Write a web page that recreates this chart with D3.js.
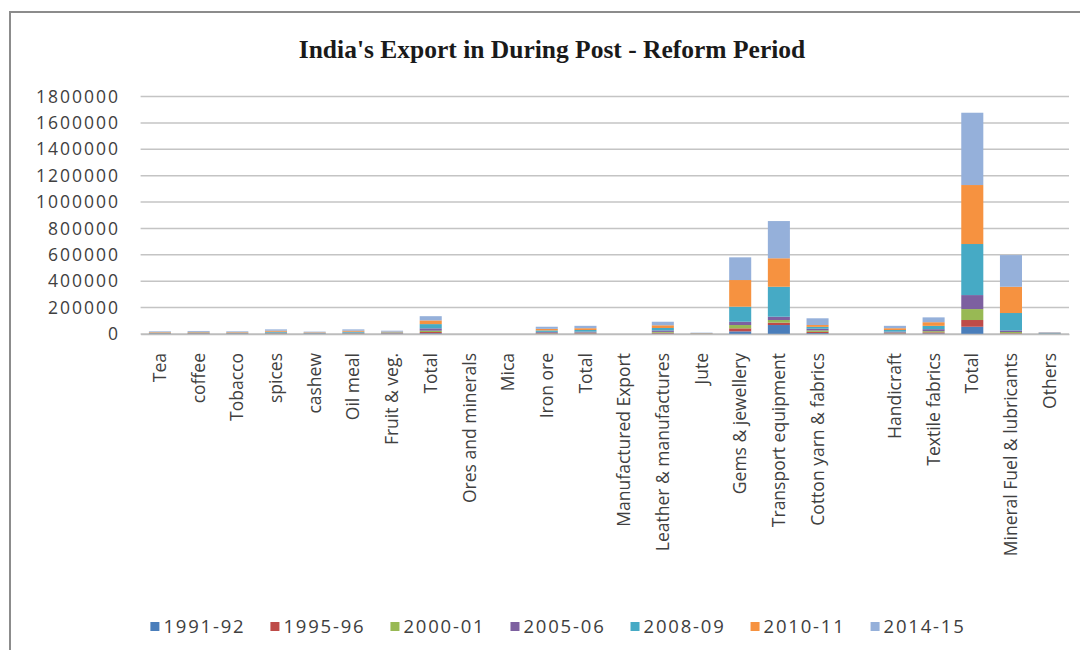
<!DOCTYPE html>
<html>
<head>
<meta charset="utf-8">
<script src="https://cdn.jsdelivr.net/npm/d3@7/dist/d3.min.js"></script>
<style>
  html, body { margin: 0; padding: 0; background: #fff; }
  svg { display: block; }
</style>
</head>
<body>
<svg id="chart" width="1080" height="650"></svg>
<script>
// Export categories (blank entry is a spacer column)
const categories = ["Tea", "coffee", "Tobacco", "spices", "cashew", "Oil meal", "Fruit & veg.", "Total",
  "Ores and minerals", "Mica", "Iron ore", "Total",
  "Manufactured Export", "Leather & manufactures", "Jute", "Gems & jewellery", "Transport equipment",
  "Cotton yarn & fabrics", "", "Handicraft", "Textile fabrics", "Total",
  "Mineral Fuel & lubricants", "Others"];

const years = ["1991-92", "1995-96", "2000-01", "2005-06", "2008-09", "2010-11", "2014-15"];

// Export value per year, one entry per category
const y1991 = [800, 900, 700, 1400, 700, 1300, 1000, 6000, 0, 0, 2200, 2500, 0, 3700, 400, 20000, 68000, 7000, 0, 2500, 5000, 55000, 2000, 600];
const y1995 = [1200, 1400, 1100, 2100, 1100, 2000, 1500, 9000, 0, 0, 3300, 3700, 0, 5600, 600, 23000, 18000, 9000, 0, 3700, 7600, 51000, 4000, 900];
const y2000 = [1400, 1600, 1500, 2500, 1300, 2600, 1700, 10000, 0, 0, 3900, 4300, 0, 6500, 700, 25000, 20000, 11000, 0, 4300, 8800, 83000, 9000, 1000];
const y2005 = [2400, 2800, 2500, 4200, 2200, 4300, 3000, 18000, 0, 0, 6600, 7400, 0, 11200, 1200, 25000, 25000, 13000, 0, 7400, 15100, 106000, 12000, 1800];
const y2008 = [4000, 4600, 4200, 7000, 3600, 7100, 5000, 32000, 0, 0, 11000, 12400, 0, 18600, 2000, 114000, 227000, 14000, 0, 12400, 25200, 387000, 132000, 3000];
const y2010 = [4400, 5100, 4300, 7700, 4000, 7600, 5500, 28000, 0, 0, 12100, 13600, 0, 20500, 2200, 202000, 216000, 14000, 0, 13600, 27700, 447000, 199000, 3300];
const y2014 = [5800, 6600, 5700, 10100, 5100, 10100, 7300, 32000, 0, 0, 15900, 18100, 0, 26900, 2900, 172000, 282000, 51000, 0, 18100, 36600, 548000, 240000, 4400];

const yTicks = [0, 200000, 400000, 600000, 800000, 1000000, 1200000, 1400000, 1600000, 1800000];

const colors = ["#4A7EBB", "#BE4B48", "#98B954", "#7D60A0", "#46AAC5", "#F69240", "#95B0DA"];

const seriesValues = [y1991, y1995, y2000, y2005, y2008, y2010, y2014];

// Rows for the stack layout
const rows = categories.map((c, i) => {
  const r = { idx: i, label: c };
  years.forEach((yr, k) => { r[yr] = seriesValues[k][i]; });
  return r;
});

const svg = d3.select("#chart");
const textColor = "#404040";
const labelFont = "'Open Sans', sans-serif";

// Frame around the chart area
svg.append("rect")
  .attr("x", 10).attr("y", 12)
  .attr("width", 1100).attr("height", 700)
  .attr("fill", "#fff")
  .attr("stroke", "#8c8c8c").attr("stroke-width", 2);

// Title
svg.append("text")
  .attr("x", 552).attr("y", 58)
  .attr("text-anchor", "middle")
  .attr("font-family", "'Liberation Serif', serif")
  .attr("font-weight", "bold")
  .attr("font-size", 25.5)
  .attr("fill", "#1a1a1a")
  .text("India's Export in During Post - Reform Period");

const x = d3.scaleBand()
  .domain(rows.map(d => d.idx))
  .range([140.6, 1069])
  .paddingInner(0.43)
  .paddingOuter(0.215);

const y = d3.scaleLinear()
  .domain([0, 1800000])
  .range([334, 96.5]);

// Horizontal gridlines
svg.append("g")
  .selectAll("line")
  .data(yTicks)
  .join("line")
  .attr("x1", 140.6).attr("x2", 1069)
  .attr("y1", d => y(d)).attr("y2", d => y(d))
  .attr("stroke", "#c4c4c4")
  .attr("stroke-width", 1.5);

// Y axis labels
const yAxis = d3.axisLeft(y).tickValues(yTicks).tickSize(0).tickPadding(0).tickFormat(d3.format("d"));
const gy = svg.append("g").attr("transform", "translate(120,0)").call(yAxis);
gy.select(".domain").remove();
gy.selectAll("text")
  .attr("font-family", labelFont)
  .attr("font-size", 17.5)
  .attr("letter-spacing", 2)
  .attr("fill", textColor);

// Stacked bars
const stack = d3.stack().keys(years);
const layers = stack(rows);

svg.append("g")
  .selectAll("g")
  .data(layers)
  .join("g")
  .attr("fill", (d, i) => colors[i])
  .selectAll("rect")
  .data(d => d)
  .join("rect")
  .attr("x", d => x(d.data.idx))
  .attr("width", x.bandwidth())
  .attr("y", d => y(d[1]))
  .attr("height", d => Math.max(0, y(d[0]) - y(d[1])));

// Category axis
const xAxis = d3.axisBottom(x).tickSize(0).tickPadding(0).tickFormat(i => categories[i]);
const gx = svg.append("g").attr("transform", "translate(0,334)").call(xAxis);
gx.select(".domain").attr("stroke", "#bdbdbd").attr("stroke-width", 1.5);
gx.selectAll("text")
  .attr("font-family", labelFont)
  .attr("font-size", 17.5)
  .attr("fill", textColor)
  .attr("text-anchor", "end")
  .attr("dy", "0.35em")
  .attr("transform", "translate(0,19) rotate(-90)")
  .attr("x", 0).attr("y", 0);

// Legend
const legend = svg.append("g");
const items = legend.selectAll("g").data(years).join("g");
items.append("rect")
  .attr("width", 9).attr("height", 9)
  .attr("y", -5)
  .attr("fill", (d, i) => colors[i]);
items.append("text")
  .attr("x", 13)
  .attr("dy", "0.35em")
  .attr("font-family", labelFont)
  .attr("font-size", 18.5)
  .attr("letter-spacing", 1.8)
  .attr("fill", textColor)
  .text(d => d);

let cx = 0;
const gap = 25;
const widths = [];
items.each(function () { widths.push(this.getBBox().width); });
const total = d3.sum(widths) + gap * (widths.length - 1);
let start = 558 - total / 2;
items.attr("transform", (d, i) => {
  const t = `translate(${start + cx},627)`;
  cx += widths[i] + gap;
  return t;
});
</script>
</body>
</html>
